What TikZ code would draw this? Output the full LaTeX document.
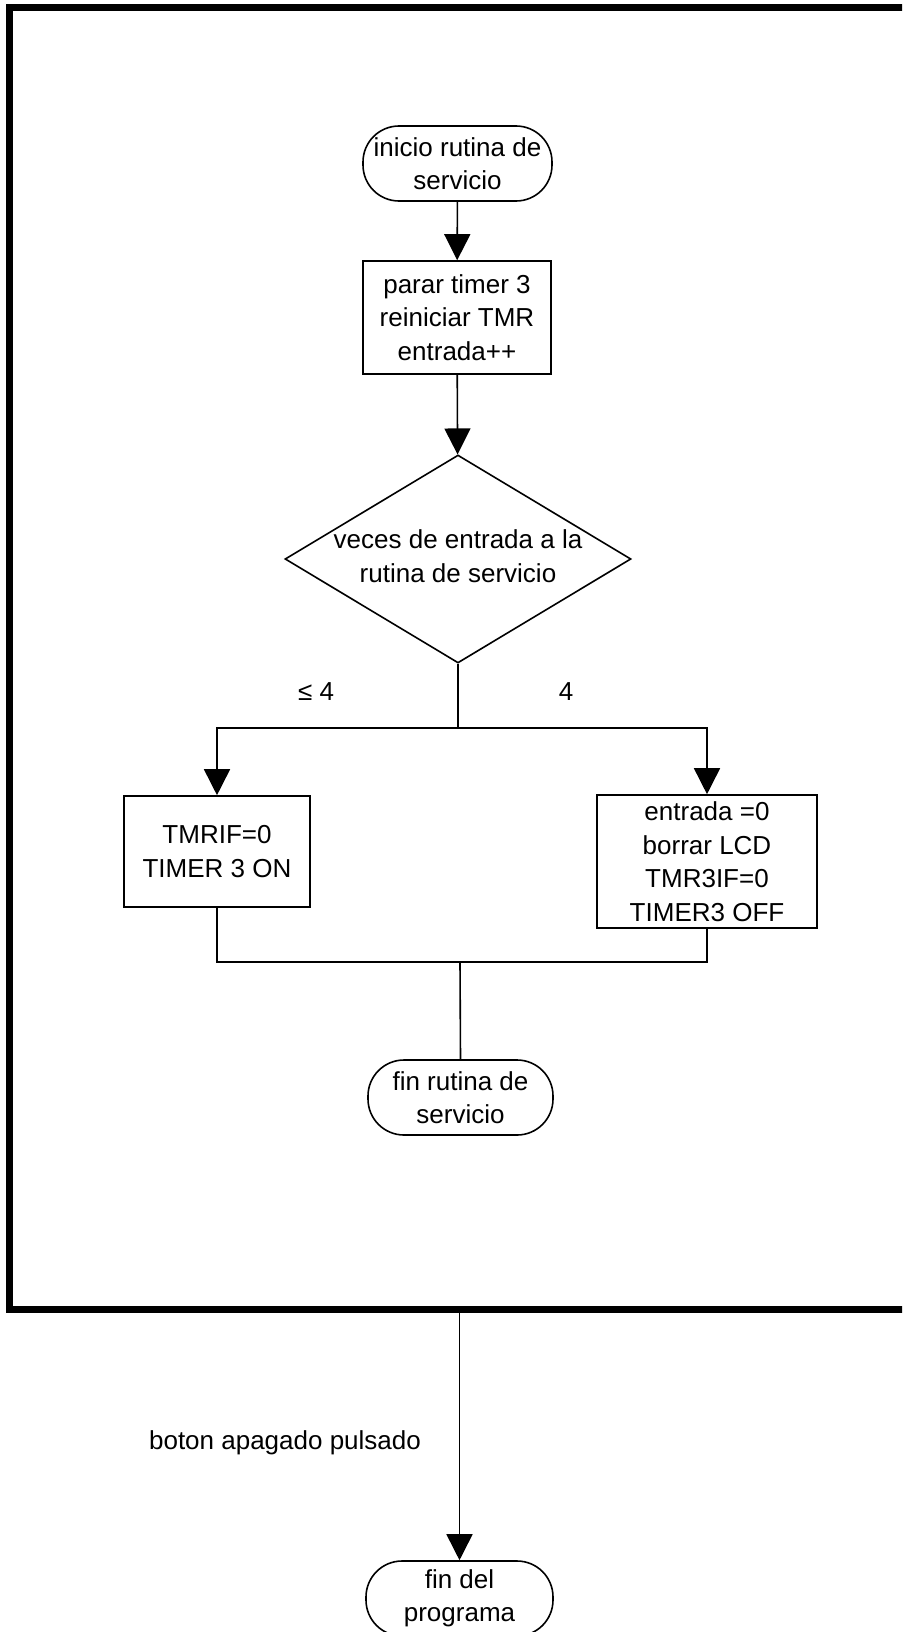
\documentclass[tikz,border=0pt]{standalone}
\usepackage{fontspec}
\setmainfont{Liberation Sans}
\usetikzlibrary{arrows.meta,shapes.geometric}
\begin{document}
\begin{tikzpicture}[x=0.5pt,y=-0.5pt,
  every node/.style={font=\fontsize{13}{16.75}\selectfont, align=center, inner sep=1pt},
  flowline/.style={line width=0.8pt},
  arr/.style={flowline, -{Triangle[width=13pt,length=13pt]}},
  terminal/.style={draw, line width=0.8pt, rectangle, rounded corners=18pt, minimum height=37.5pt},
  process/.style={draw, line width=0.8pt, rectangle},
  decision/.style={draw, line width=0.8pt, diamond, inner sep=0pt, minimum width=173pt, minimum height=104pt},
  frame/.style={line width=3.5pt},
  lbl/.style={inner sep=0pt}]
\useasboundingbox (0,0) rectangle (902,1632);
\clip (0,0) rectangle (902,1632);

% enclosing frame of the service routine (open to the right)
\draw[frame] (9,8) rectangle (1000,1309);

% service routine
\node[terminal, minimum width=94.5pt] (start) at (457.5,163.5) {inicio rutina de\\servicio};
\node[process, minimum width=94pt, minimum height=56.5pt] (stop) at (457,317.5)
  {parar timer 3\\reiniciar TMR\\entrada++};
\node[decision] (dec) at (458,559)
  {\makebox[0pt]{\begin{tabular}{@{}c@{}}veces de entrada a la\\rutina de servicio\end{tabular}}};
\node[process, minimum width=93pt, minimum height=55.5pt] (on) at (217,851.5)
  {TMRIF=0\\TIMER 3 ON};
\node[process, minimum width=110pt, minimum height=66.5pt, inner ysep=0.5pt] (off) at (707,861.5)
  {entrada =0\\borrar LCD\\TMR3IF=0\\TIMER3 OFF};
\node[terminal, minimum width=92.5pt] (fin) at (460.5,1097.5) {fin rutina de\\servicio};

% branch labels
\node[lbl] (le) at (316,692) {≤ 4};
\node[lbl] (eq) at (566,692) {4};

% branch and merge points
\coordinate (split) at (458,728);
\coordinate (join) at (460,962);

\draw[arr] (start) -- (stop);
\draw[arr] (stop) -- (dec);
\draw[flowline] (dec.south) -- (split);
\draw[arr] (split) -| (on.north);
\draw[arr] (split) -| (off.north);
\draw[flowline] (on.south) |- (join);
\draw[flowline] (off.south) |- (join);
\draw[flowline] (join) -- (fin.north);

% program end
\coordinate (exit) at (459.5,1309);
\node[terminal, minimum width=93.5pt] (end) at (459.5,1598.5) {fin del\\programa};
\node[lbl] (btn) at (285,1443) {boton apagado pulsado};
\draw[arr] (exit) -- (end.north);
\end{tikzpicture}
\end{document}
